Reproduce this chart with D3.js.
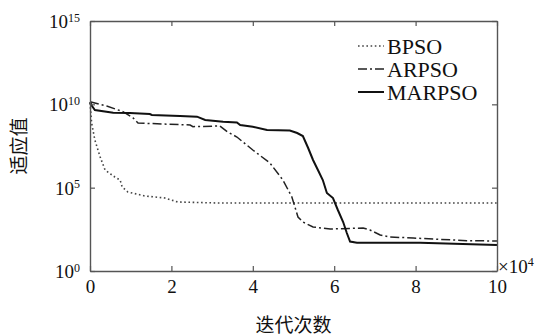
<!DOCTYPE html>
<html>
<head>
  <meta charset="utf-8">
  <script src="https://d3js.org/d3.v7.min.js"></script>
  <style>
    body { margin: 0; background: #fff; }
    text { font-family: "Liberation Serif", "Times New Roman", "DejaVu Serif", serif; fill: #111; }
    .cjk { font-family: "Noto Sans CJK SC", sans-serif; }
  </style>
</head>
<body>
<script>
  var width = 546,
      height = 336;

  // iterations in units of 10^4, fitness given as log10 exponent
  var bpsoX = [0, 0.04, 0.12, 0.25, 0.37, 0.61, 0.74, 0.79, 0.93, 1.35, 1.84, 2.16, 3.15, 10];
  var bpsoE = [10.08, 8.88, 7.86, 6.84, 6.06, 5.64, 5.46, 5.04, 4.74, 4.50, 4.38, 4.14, 4.08, 4.08];

  var arpsoX = [0, 0.41, 0.81, 1.06, 1.18, 1.79, 2.46, 2.53, 3.19, 3.37, 3.61, 4.00, 4.42, 4.74, 4.96, 5.11, 5.23, 5.48, 5.90, 6.71, 6.88, 7.13, 7.37, 7.94, 9.26, 10];
  var arpsoE = [10.16, 9.90, 9.56, 9.18, 8.88, 8.82, 8.76, 8.66, 8.70, 8.36, 8.04, 7.26, 6.48, 5.46, 4.44, 3.24, 2.94, 2.64, 2.52, 2.58, 2.46, 2.16, 2.04, 1.98, 1.82, 1.80];

  var marpsoX = [0, 0.05, 0.12, 0.57, 0.98, 1.47, 1.52, 2.21, 2.63, 2.83, 3.27, 3.61, 3.69, 4.00, 4.35, 4.91, 5.09, 5.23, 5.36, 5.48, 5.60, 5.72, 5.82, 5.97, 6.09, 6.22, 6.31, 6.39, 6.56, 8.11, 10];
  var marpsoE = [10.14, 9.90, 9.66, 9.50, 9.48, 9.42, 9.36, 9.30, 9.26, 9.06, 8.96, 8.91, 8.76, 8.66, 8.46, 8.43, 8.28, 8.10, 7.38, 6.66, 6.06, 5.46, 4.68, 4.38, 3.66, 2.94, 2.28, 1.77, 1.70, 1.70, 1.56];

  var seriesNames = ["BPSO", "ARPSO", "MARPSO"];
  var xTicks = [0, 2, 4, 6, 8, 10];
  var yTickExps = [0, 5, 10, 15];

  var margin = { left: 90, right: 49, top: 21, bottom: 65 };

  var svg = d3.select("body").append("svg")
    .attr("width", width)
    .attr("height", height);

  var x = d3.scaleLinear().domain([0, 10]).range([margin.left, width - margin.right]);
  var y = d3.scaleLog().domain([1, 1e15]).range([height - margin.bottom, margin.top]);

  function toPoints(xs, es) {
    return xs.map(function(v, i) { return [v, Math.pow(10, es[i])]; });
  }

  var line = d3.line()
    .x(function(d) { return x(d[0]); })
    .y(function(d) { return y(d[1]); });

  var series = [
    { name: seriesNames[0], pts: toPoints(bpsoX, bpsoE), dash: "1.6,2.6", w: 1.6, color: "#444" },
    { name: seriesNames[1], pts: toPoints(arpsoX, arpsoE), dash: "9,3,2,3", w: 1.5, color: "#222" },
    { name: seriesNames[2], pts: toPoints(marpsoX, marpsoE), dash: null, w: 2, color: "#111" }
  ];

  svg.selectAll("path.curve")
    .data(series)
    .enter().append("path")
    .attr("class", "curve")
    .attr("fill", "none")
    .attr("stroke", function(d) { return d.color; })
    .attr("stroke-width", function(d) { return d.w; })
    .attr("stroke-dasharray", function(d) { return d.dash; })
    .attr("d", function(d) { return line(d.pts); });

  // frame with inward ticks
  var x0 = x(0), x1 = x(10), y0 = y(1), y1 = y(1e15);
  var axisColor = "#555";
  var yTickVals = yTickExps.map(function(e) { return Math.pow(10, e); });

  var gBottom = svg.append("g").attr("transform", "translate(0," + y0 + ")")
    .call(d3.axisBottom(x).tickValues(xTicks).tickSizeInner(-5).tickSizeOuter(0).tickPadding(9)
      .tickFormat(d3.format("d")));
  var gTop = svg.append("g").attr("transform", "translate(0," + y1 + ")")
    .call(d3.axisTop(x).tickValues(xTicks).tickSizeInner(-5).tickSizeOuter(0).tickFormat(""));
  var gLeft = svg.append("g").attr("transform", "translate(" + x0 + ",0)")
    .call(d3.axisLeft(y).tickValues(yTickVals).tickSizeInner(-5).tickSizeOuter(0).tickFormat(""));
  var gRight = svg.append("g").attr("transform", "translate(" + x1 + ",0)")
    .call(d3.axisRight(y).tickValues(yTickVals).tickSizeInner(-5).tickSizeOuter(0).tickFormat(""));

  [gBottom, gTop, gLeft, gRight].forEach(function(g) {
    g.select(".domain").attr("stroke", axisColor).attr("stroke-width", 1.4);
    g.selectAll(".tick line").attr("stroke", axisColor).attr("stroke-width", 1.2);
  });

  gBottom.selectAll(".tick text")
    .style("font-size", "19px")
    .attr("fill", "#111");

  // y tick labels 10^n
  gLeft.selectAll(".tick").each(function(d) {
    var e = Math.round(Math.log10(d));
    var t = d3.select(this).append("text")
      .attr("x", -10)
      .attr("dy", "0.35em")
      .attr("text-anchor", "end")
      .style("font-size", "19px")
      .attr("fill", "#111");
    t.append("tspan").text("10");
    t.append("tspan").attr("dy", "-0.55em").style("font-size", "12px").text(e);
  });

  // x10^4 multiplier
  var mult = svg.append("text")
    .attr("x", x1 + 1)
    .attr("y", y0 + 2)
    .style("font-size", "19px");
  mult.append("tspan").text("\u00d710");
  mult.append("tspan").attr("dy", "-0.55em").style("font-size", "12px").text("4");

  // axis titles
  svg.append("text")
    .attr("class", "cjk")
    .attr("x", (x0 + x1) / 2)
    .attr("y", 332)
    .attr("text-anchor", "middle")
    .style("font-size", "19px")
    .text("迭代次数");

  svg.append("text")
    .attr("class", "cjk")
    .attr("transform", "translate(26," + ((y0 + y1) / 2) + ") rotate(-90)")
    .attr("text-anchor", "middle")
    .style("font-size", "19px")
    .text("适应值");

  // legend
  var legend = svg.append("g");
  series.forEach(function(s, i) {
    var ly = 46 + i * 23;
    legend.append("line")
      .attr("x1", 358).attr("x2", 384)
      .attr("y1", ly).attr("y2", ly)
      .attr("stroke", s.color)
      .attr("stroke-width", s.w)
      .attr("stroke-dasharray", s.dash);
    legend.append("text")
      .attr("x", 387)
      .attr("y", ly)
      .attr("dy", "0.35em")
      .style("font-size", "22px")
      .text(s.name);
  });
</script>
</body>
</html>
